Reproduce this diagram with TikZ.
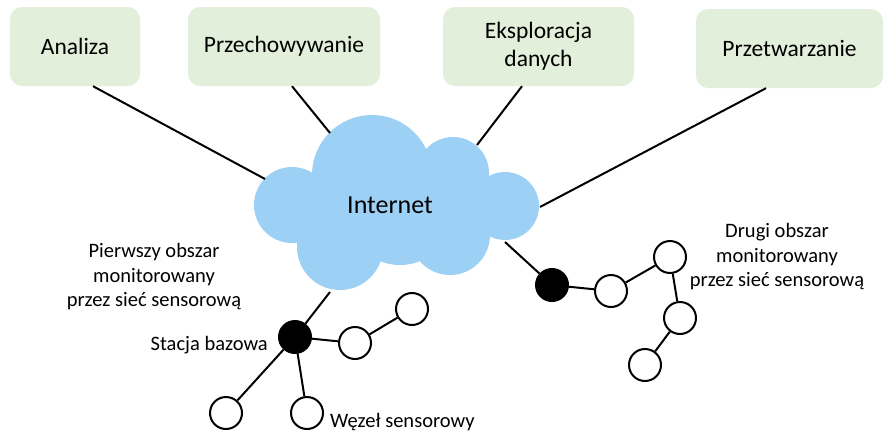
\documentclass[tikz,border=0pt]{standalone}
\usepackage{fontspec}
\setmainfont{Carlito}
\usepackage{xcolor}
\usepackage{tikz}
\usetikzlibrary{positioning,calc}
\definecolor{boxgreen}{RGB}{226,239,218}
\definecolor{cloudblue}{RGB}{157,208,245}

\begin{document}
\begin{tikzpicture}[x=1pt,y=-1pt,
    task/.style={rectangle,rounded corners=12pt,fill=boxgreen,minimum height=79pt,align=center,font=\fontsize{23.5}{28}\selectfont},
    sensor/.style={circle,draw,line width=2pt,minimum size=32pt,inner sep=0pt,fill=white},
    sink/.style={sensor,fill=black},
    link/.style={line width=2pt},
    lbl/.style={align=center,inner sep=0pt,font=\fontsize{20.5}{24.5}\selectfont}]
    \useasboundingbox (0,0) rectangle (886,434);

    \node[task,minimum width=130pt] (ana) at (75,46.5) {Analiza};
    \node[task,minimum width=192pt] (prz) at (284,46.5) {Przechowywanie};
    \node[task,minimum width=191pt] (eks) at (538.5,46.5) {Eksploracja\\danych};
    \node[task,minimum width=187pt] (pro) at (789.5,48.5) {Przetwarzanie};

    \fill[cloudblue] (292,205) circle (38pt) (372,175) circle (60pt) (453,173) circle (36pt)
        (505,206) circle (34pt) (340,247) circle (43pt) (450,235) circle (40pt) (400,210) circle (55pt);
    \node[font=\fontsize{26}{30}\selectfont] (inet) at (390,205) {Internet};

    \coordinate (c1) at (265,179);
    \coordinate (c2) at (330,133);
    \coordinate (c3) at (477,145);
    \coordinate (c4) at (540,207);
    \coordinate (c5) at (330,292);
    \coordinate (c6) at (505,242);

    \draw[link] ([xshift=18pt]ana.south) -- (c1);
    \draw[link] ([xshift=8pt]prz.south) -- (c2);
    \draw[link] ([xshift=-16.5pt]eks.south) -- (c3);
    \draw[link] ([xshift=-23.5pt]pro.south) -- (c4);

    \node[sink] (bs1) at (295,337) {};
    \node[sensor] (s1) at (355,343) {};
    \node[sensor] (s2) at (412,309) {};
    \node[sensor] (s3) at (226,413) {};
    \node[sensor] (s4) at (307,413) {};

    \node[sink] (bs2) at (552,285) {};
    \node[sensor] (t1) at (611,291) {};
    \node[sensor] (t2) at (670,257) {};
    \node[sensor] (t3) at (680,318) {};
    \node[sensor] (t4) at (645,365) {};

    \draw[link] (c5) -- (bs1);
    \draw[link] (bs1) -- (s1) -- (s2);
    \draw[link] (bs1) -- (s3);
    \draw[link] (bs1) -- (s4);
    \draw[link] (c6) -- (bs2);
    \draw[link] (bs2) -- (t1) -- (t2) -- (t3) -- (t4);

    \node[lbl] (area1) at (154,277) {Pierwszy obszar\\monitorowany\\przez sieć sensorową};
    \node[lbl,anchor=east] (bslbl) at (268,345) {Stacja bazowa};
    \node[lbl,anchor=west] (snlbl) at (330,422) {Węzeł sensorowy};
    \node[lbl] (area2) at (777,257) {Drugi obszar\\monitorowany\\przez sieć sensorową};
\end{tikzpicture}
\end{document}
